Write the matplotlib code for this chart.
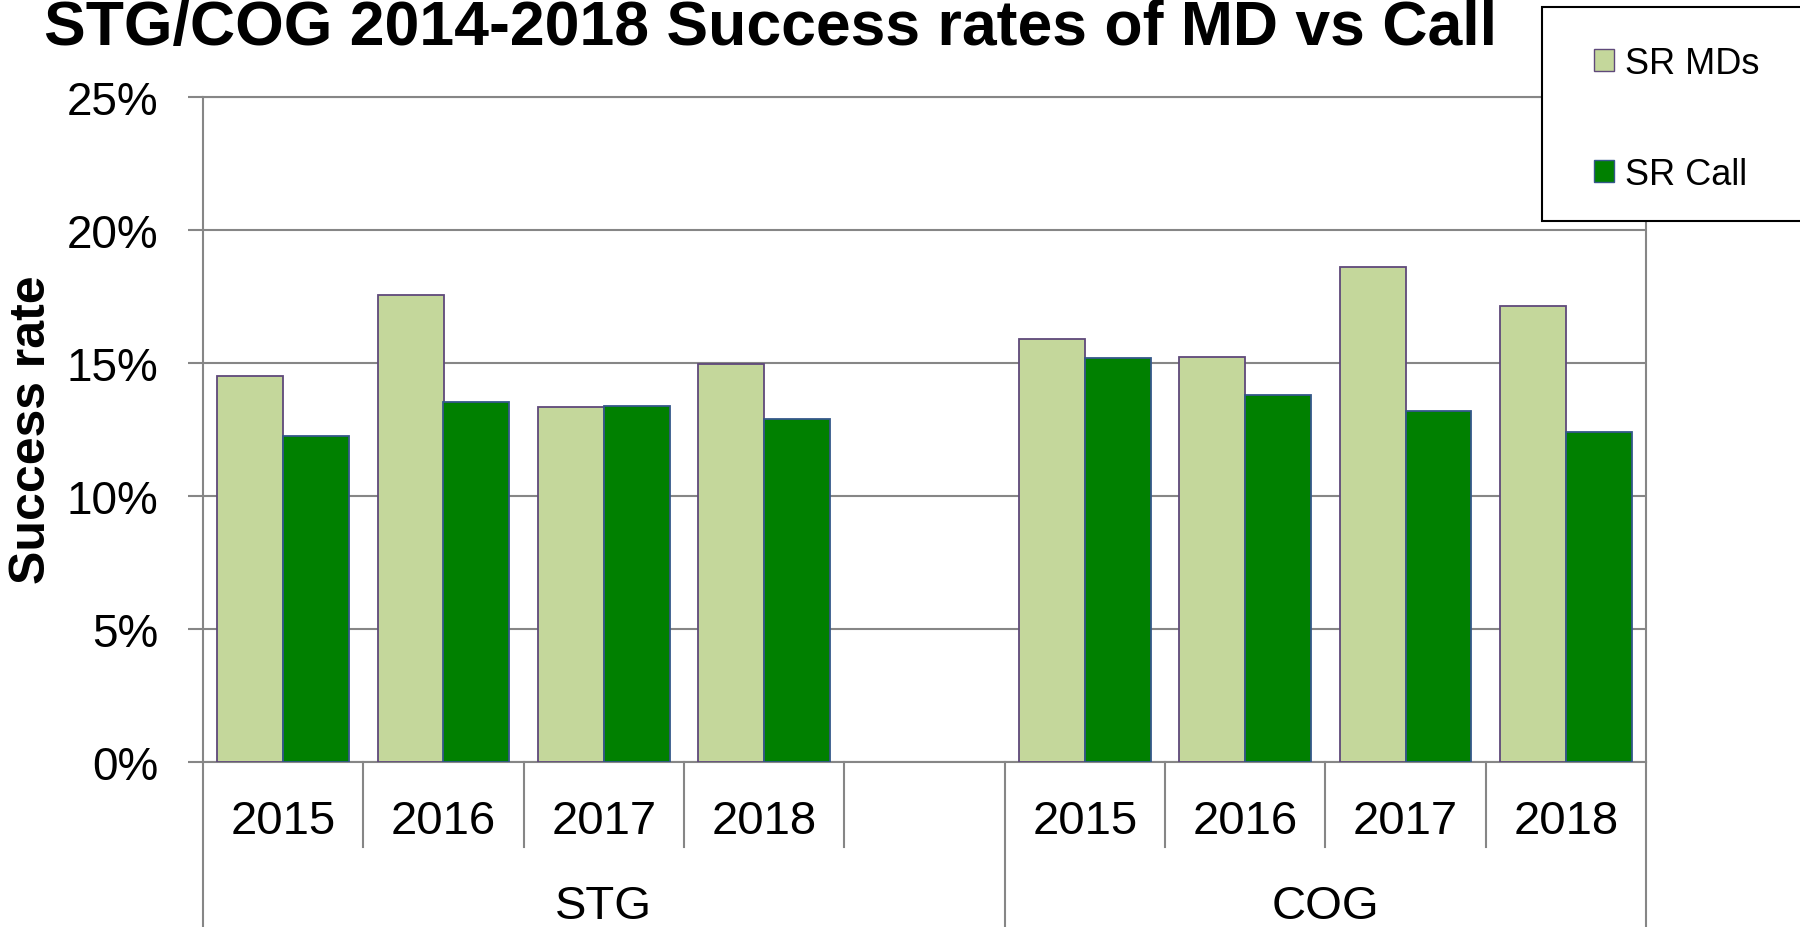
import numpy as np
import matplotlib.pyplot as plt
from matplotlib.patches import Rectangle, Patch

plt.rcParams['font.family'] = ['Liberation Sans', 'DejaVu Sans']

# values (percent)
years = ['2015', '2016', '2017', '2018']
groups = ['STG', 'COG']
stg_md = [14.53, 17.56, 13.33, 14.95]
stg_call = [12.26, 13.52, 13.39, 12.88]
cog_md = [15.91, 15.23, 18.62, 17.14]
cog_call = [15.18, 13.80, 13.18, 12.40]

md_col = '#c4d79b'
call_col = '#008000'
grid_col = '#868686'

# slot layout: STG years + one empty slot, then COG years
stg_x = np.arange(4)
cog_x = np.arange(5, 9)
x_md = np.concatenate([stg_x, cog_x])
md_vals = np.array(stg_md + cog_md) / 100
call_vals = np.array(stg_call + cog_call) / 100

fig = plt.figure(figsize=(18, 9.28), dpi=100)
ax = fig.add_axes([203/1800, 1 - 763/928, (1646-203)/1800, (763-98)/928])

w = 0.41
ax.bar(x_md - w/2, md_vals, w, color=md_col, edgecolor='#5f497a', linewidth=1.3, zorder=3)
ax.bar(x_md + w/2, call_vals, w, color=call_col, edgecolor='#35588a', linewidth=1.3, zorder=3)

ax.set_xlim(-0.5, 8.5)
ax.set_ylim(0, 0.25)
ax.set_yticks(np.arange(0, 0.26, 0.05))
ax.set_yticklabels(['%d%%' % v for v in range(0, 26, 5)], fontsize=33)
ax.tick_params(axis='y', length=11, width=1.5, color=grid_col, pad=21)
ax.yaxis.grid(True, color=grid_col, linewidth=1.5, zorder=0)
ax.set_xticks([])
for s in ['left', 'bottom', 'right', 'top']:
    ax.spines[s].set_color(grid_col)
    ax.spines[s].set_linewidth(1.5)
ax.set_axisbelow(True)

# category axis: years and groups below
tr = ax.get_xaxis_transform()
all_years = years + [''] + years
for i, yr in enumerate(all_years):
    ax.text(i, -0.089, yr, transform=tr, ha='center', va='center', fontsize=34)
for i in range(1, 9):
    if i == 5:
        continue
    ax.plot([i - 0.5, i - 0.5], [0, -0.128], transform=tr, color=grid_col, lw=1.5, clip_on=False)
for xb in [-0.5, 4.5, 8.5]:
    ax.plot([xb, xb], [0, -0.26], transform=tr, color=grid_col, lw=1.5, clip_on=False)
ax.text(2, -0.216, groups[0], transform=tr, ha='center', va='center', fontsize=34)
ax.text(6.5, -0.216, groups[1], transform=tr, ha='center', va='center', fontsize=34)

fig.text(32/1800, 1 - 430/928, 'Success rate', rotation=90, ha='center', va='center',
         fontsize=36, fontweight='bold')
fig.text(44/1800, 1 - 45/928, 'STG/COG 2014-2018 Success rates of MD vs Call',
         ha='left', va='baseline', fontsize=45, fontweight='bold')

# legend box running off the right edge
box = Rectangle((1542/1800, 1 - 222/928), 0.2, (222-8)/928, transform=fig.transFigure,
                facecolor='white', edgecolor='black', linewidth=1.5, zorder=5)
fig.add_artist(box)
handles = [Patch(facecolor=md_col, edgecolor='#5f497a', label='SR MDs'),
           Patch(facecolor=call_col, edgecolor='#35588a', label='SR Call')]
leg = fig.legend(handles=handles, loc='upper left', bbox_to_anchor=(1594/1800, 1 - 47/928),
                 frameon=False, fontsize=26, handlelength=0.55, handleheight=0.55,
                 handletextpad=0.3, labelspacing=2.1, borderpad=0, borderaxespad=0)
leg.set_zorder(6)

fig.savefig('out.png', dpi=100)
